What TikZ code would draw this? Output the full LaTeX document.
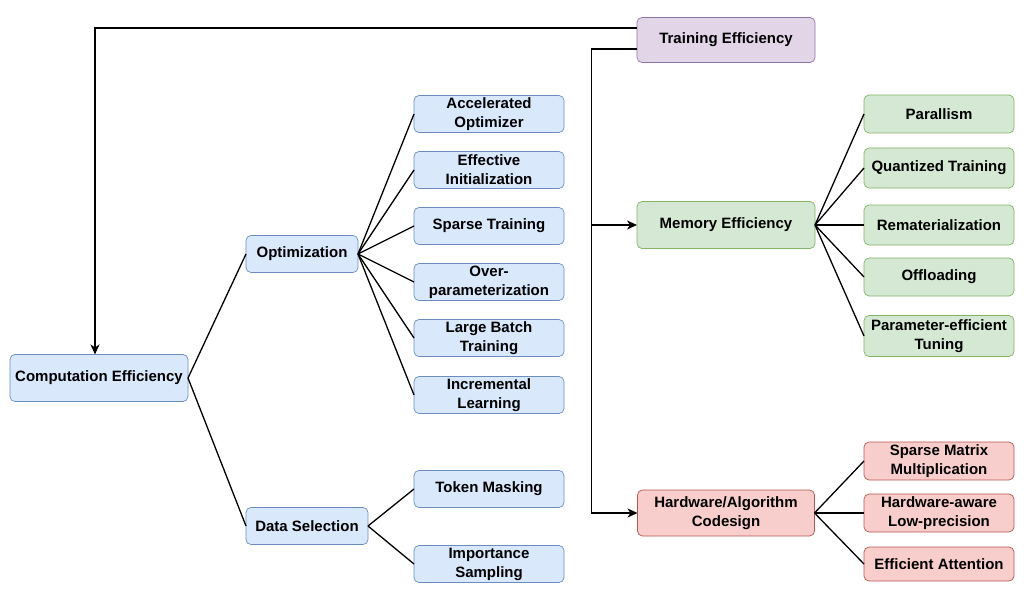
\documentclass[tikz,border=0pt]{standalone}
\usepackage{fontspec}
\setmainfont{Liberation Sans}
\usepackage{color}
\definecolor{myblue}{RGB}{218,232,252}
\definecolor{mybluedraw}{RGB}{108,142,191}
\definecolor{mygreen}{RGB}{213,232,212}
\definecolor{mygreendraw}{RGB}{130,179,102}
\definecolor{myred}{RGB}{248,206,204}
\definecolor{myreddraw}{RGB}{184,84,80}
\definecolor{mypurple}{RGB}{225,213,231}
\definecolor{mypurpledraw}{RGB}{150,115,166}
\usepackage{tikz}
\usetikzlibrary{arrows,arrows.meta,positioning}
\tikzstyle{box}=[draw,rounded corners=5pt,align=center,inner sep=0pt,outer sep=0pt,line width=0.7pt,font=\fontsize{15}{19}\selectfont\bfseries]
\tikzstyle{bluebox}=[box,fill=myblue,draw=mybluedraw]
\tikzstyle{greenbox}=[box,fill=mygreen,draw=mygreendraw,minimum width=150pt]
\tikzstyle{redbox}=[box,fill=myred,draw=myreddraw,minimum width=150pt]
\tikzstyle{topbox}=[box,minimum width=178pt,minimum height=46pt]
\tikzstyle{leaf}=[bluebox,minimum width=150pt,minimum height=37pt]

\begin{document}
\begin{tikzpicture}[x=1pt,y=-1pt,line width=1.3pt,>={Stealth[length=10pt,width=9pt,inset=3pt]}]
\useasboundingbox (0, 0) rectangle (1036, 591);
\draw (99, 378) node [bluebox,minimum width=178pt,minimum height=47pt] (comp) {Computation Efficiency};
\draw (302, 254) node [bluebox,minimum width=112pt,minimum height=37pt] (opt) {Optimization};
\draw (307, 526) node [bluebox,minimum width=122pt,minimum height=37pt] (data) {Data Selection};
\draw (489, 114) node [leaf] (acc) {Accelerated\\Optimizer};
\draw (489, 170) node [leaf] (init) {Effective\\Initialization};
\draw (489, 226) node [leaf] (sparse) {Sparse Training};
\draw (489, 282) node [leaf] (overp) {Over-\\parameterization};
\draw (489, 338) node [leaf] (batch) {Large Batch\\Training};
\draw (489, 395) node [leaf] (incr) {Incremental\\Learning};
\draw (489, 489) node [leaf] (token) {Token Masking};
\draw (489, 564) node [leaf] (imp) {Importance\\Sampling};
\draw (726, 40) node [topbox,fill=mypurple,draw=mypurpledraw,minimum height=45pt] (train) {Training Efficiency};
\draw (726, 225) node [topbox,fill=mygreen,draw=mygreendraw,minimum height=47pt] (mem) {Memory Efficiency};
\draw (726, 513) node [topbox,fill=myred,draw=myreddraw,minimum width=177pt] (hw) {Hardware/Algorithm\\Codesign};
\draw (939, 114) node [greenbox,minimum height=38pt] (par) {Parallism};
\draw (939, 168) node [greenbox,minimum height=40pt] (quant) {Quantized Training};
\draw (939, 225) node [greenbox,minimum height=40pt] (remat) {Rematerialization};
\draw (939, 277) node [greenbox,minimum height=38pt] (offl) {Offloading};
\draw (939, 336) node [greenbox,minimum height=41pt] (peft) {Parameter-efficient\\Tuning};
\draw (939, 461) node [redbox,minimum height=38pt] (spmm) {Sparse Matrix\\Multiplication};
\draw (939, 513) node [redbox,minimum height=38pt] (lowp) {Hardware-aware\\Low-precision};
\draw (939, 564) node [redbox,minimum height=34pt] (attn) {Efficient Attention};
% top level links
\draw[->] ([yshift=12pt]train.west) -| ([xshift=-4pt]comp.north);
\draw[->] ([yshift=-9pt]train.west) -| ([xshift=-46pt]hw.west) -- (hw.west);
\draw[->] ([xshift=-45pt]mem.west) -- (mem.west);
% computation side
\draw (comp.east) -- (opt.west);
\draw (comp.east) -- (data.west);
\draw (opt.east) -- (acc.west);
\draw (opt.east) -- (init.west);
\draw (opt.east) -- (sparse.west);
\draw (opt.east) -- (overp.west);
\draw (opt.east) -- (batch.west);
\draw (opt.east) -- (incr.west);
\draw (data.east) -- (token.west);
\draw (data.east) -- (imp.west);
% memory side
\draw (mem.east) -- (par.west);
\draw (mem.east) -- (quant.west);
\draw (mem.east) -- (remat.west);
\draw (mem.east) -- (offl.west);
\draw (mem.east) -- (peft.west);
% hardware side
\draw (hw.east) -- (spmm.west);
\draw (hw.east) -- (lowp.west);
\draw (hw.east) -- (attn.west);
\end{tikzpicture}
\end{document}
